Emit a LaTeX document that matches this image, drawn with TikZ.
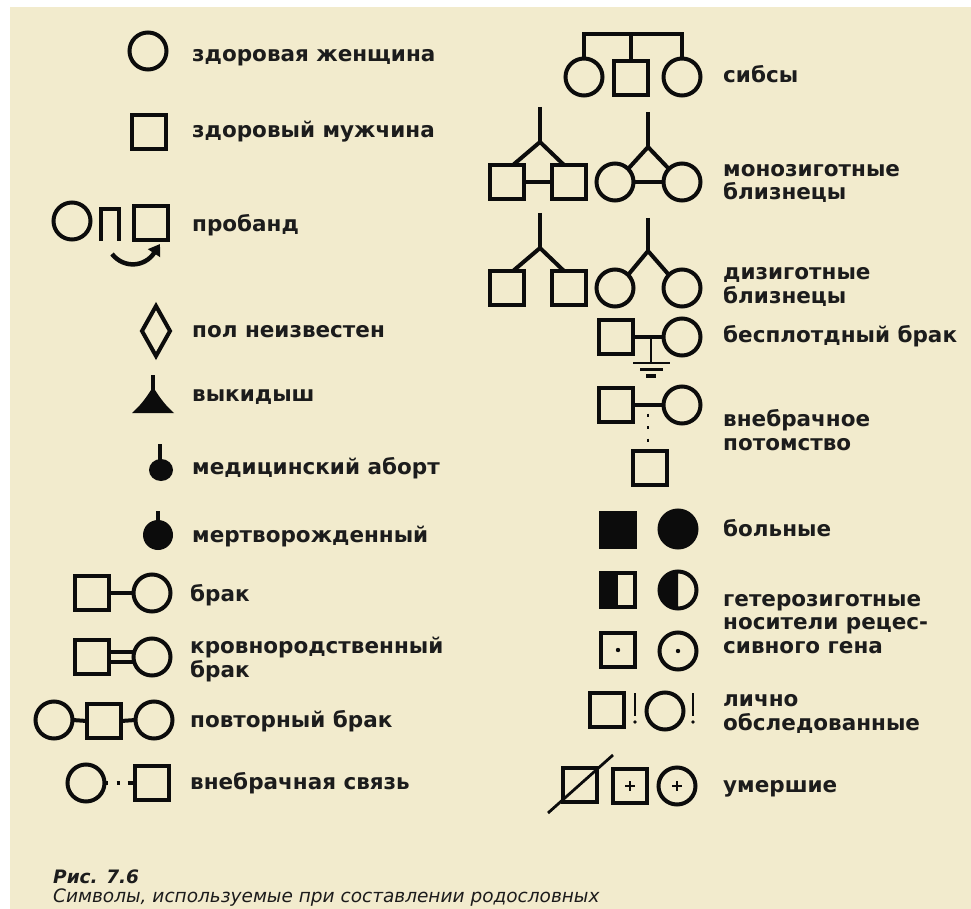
\documentclass[tikz,border=0pt]{standalone}
\usepackage{fontspec}
\setmainfont{DejaVu Sans}
\usetikzlibrary{arrows.meta,calc}
\definecolor{bg}{RGB}{242,235,205}
\definecolor{ink}{RGB}{12,12,12}
\definecolor{txt}{RGB}{28,28,28}
\begin{document}
\begin{tikzpicture}[x=1pt,y=-1pt,
  sym/.style={draw=ink,line width=4pt,inner sep=0pt,outer sep=0pt},
  sq/.style={sym,rectangle,minimum size=34pt},
  ci/.style={sym,circle,minimum size=37pt},
  filled/.style={fill=ink},
  lnk/.style={draw=ink,line width=4pt},
  thinln/.style={draw=ink,line width=2.8pt},
  lbl/.style={anchor=base west,inner sep=0pt,text=txt,align=left,
    font=\bfseries\fontsize{21.5}{23.5}\selectfont},
  captxt/.style={anchor=base west,inner sep=0pt,text=txt,align=left,
    font=\itshape\fontsize{18.5}{19}\selectfont}
]
\useasboundingbox (0,0) rectangle (971,909);
\fill[bg] (10,7) rectangle (971,909);

% ---------- left column ----------
\node[ci] (wo) at (148,51) {};
\node[lbl] (two) at (192,62) {здоровая женщина};

\node[sq] (ma) at (149,132) {};
\node[lbl] (tma) at (192,138) {здоровый мужчина};

\node[ci] (prc) at (72,221) {};
\draw[lnk,line width=4.5pt] (101,241) -- (101,209) -- (119,209) -- (119,241);
\node[sq] (prs) at (151,223) {};
\coordinate (prtip) at (160,244);
\draw[lnk,line width=4.5pt,-{Triangle[length=11pt,width=14pt]}] (112,254) .. controls (124,269) and (145,267) .. (prtip);
\node[lbl] (tpr) at (192,232) {пробанд};

\draw[lnk] (156,306) -- (170,331) -- (156,356) -- (142,331) -- cycle;
\node[lbl] (tun) at (192,337) {пол неизвестен};

\draw[draw=ink,line width=3.2pt] (153,375) -- (153,393);
\fill[ink] (132,413) .. controls (140,406) and (146,398) .. (151,390)
  -- (155,390) .. controls (160,398) and (166,406) .. (174,413) -- cycle;
\node[lbl] (tmc) at (192,401) {выкидыш};

\draw[draw=ink,line width=3.2pt] (160,444) -- (160,462);
\fill[ink] (161,470) ellipse [x radius=12, y radius=11];
\node[lbl] (tab) at (192,474) {медицинский аборт};

\draw[draw=ink,line width=3.2pt] (158,511) -- (158,522);
\fill[ink] (158,535) circle [radius=15];
\node[lbl] (tsb) at (192,542) {мертворожденный};

\node[sq] (mr1) at (92,593) {};
\node[ci] (mr2) at (152,593) {};
\draw[lnk] (mr1.east) -- (mr2.west);
\node[lbl] (tmr) at (190,601) {брак};

\node[sq] (cb1) at (92,657) {};
\node[ci] (cb2) at (152,657) {};
\draw[lnk] ([yshift=5pt]cb1.east) -- ([yshift=5pt]cb2.west);
\draw[lnk] ([yshift=-5pt]cb1.east) -- ([yshift=-5pt]cb2.west);
\node[lbl] (tcb) at (190,677) {кровнородственный\\брак};

\node[ci] (rp1) at (54,720) {};
\node[sq] (rp2) at (104,721) {};
\node[ci] (rp3) at (154,720) {};
\draw[lnk] (rp1.east) -- (rp2.west);
\draw[lnk] (rp2.east) -- (rp3.west);
\node[lbl] (trp) at (190,727) {повторный брак};

\node[ci] (xm1) at (86,783) {};
\node[sq] (xm2) at (152,783) {};
\draw[lnk,dash pattern=on 3.5pt off 8.5pt on 3pt off 8pt on 5pt] (xm1.east) -- (xm2.west);
\node[lbl] (txm) at (190,789) {внебрачная связь};

% ---------- right column ----------
\node[ci] (sb1) at (584,77) {};
\node[sq] (sb2) at (631,78) {};
\node[ci] (sb3) at (682,77) {};
\coordinate (sbt) at (631,34);
\draw[lnk] (sb1.north) -- (sb1.north |- sbt) -- (sb3.north |- sbt) -- (sb3.north);
\draw[lnk] (sb2.north) -- (sbt);
\node[lbl] (tsb2) at (723,83) {сибсы};

% monozygotic
\node[sq] (mzA) at (507,182) {};
\node[sq] (mzB) at (569,182) {};
\node[ci] (mzC) at (615,182) {};
\node[ci] (mzD) at (682,182) {};
\coordinate (mzb) at (540,142);
\coordinate (mzg) at (648,147);
\draw[lnk] (540,107) -- (mzb);
\draw[lnk] ($(mzA.north)+(6,0)$) -- (mzb) -- ($(mzB.north)+(-5,0)$);
\draw[lnk] (648,112) -- (mzg);
\draw[lnk] (mzC.north east) -- (mzg) -- (mzD.north west);
\draw[lnk] (mzA.east) -- (mzB.west);
\draw[lnk] (mzC.east) -- (mzD.west);
\node[lbl] (tmz) at (723,200) {монозиготные\\близнецы};

% dizygotic
\node[sq] (dzA) at (507,288) {};
\node[sq] (dzB) at (569,288) {};
\node[ci] (dzC) at (615,288) {};
\node[ci] (dzD) at (682,288) {};
\coordinate (dzb) at (540,248);
\coordinate (dzg) at (648,251);
\draw[lnk] (540,213) -- (dzb);
\draw[lnk] ($(dzA.north)+(6,0)$) -- (dzb) -- ($(dzB.north)+(-5,0)$);
\draw[lnk] (648,218) -- (dzg);
\draw[lnk] (dzC.north east) -- (dzg) -- (dzD.north west);
\node[lbl] (tdz) at (723,303) {дизиготные\\близнецы};

% childless
\node[sq] (ch1) at (616,337) {};
\node[ci] (ch2) at (682,337) {};
\draw[lnk] (ch1.east) -- (ch2.west);
\coordinate (cht) at (651,337);
\coordinate (chg) at (651,363);
\draw[thinln] (cht) -- (chg);
\draw[thinln] ($(chg)+(-18,0)$) -- ($(chg)+(19,0)$);
\draw[thinln] ($(chg)+(-11,6.5)$) -- ($(chg)+(12,6.5)$);
\draw[line width=3.2pt,draw=ink] ($(chg)+(-5,13)$) -- ($(chg)+(5,13)$);
\node[lbl] (tch) at (723,342) {бесплотдный брак};

% illegitimate
\node[sq] (il1) at (616,405) {};
\node[ci] (il2) at (682,405) {};
\node[sq] (il3) at (650,468) {};
\draw[lnk] (il1.east) -- (il2.west);
\coordinate (ilm) at (648,405);
\draw[draw=ink,line width=2.8pt,dash pattern=on 3pt off 9.5pt,dash phase=4pt] (ilm) -- (ilm |- il3.north);
\node[lbl] (til) at (723,450) {внебрачное\\потомство};

% affected
\node[sq,filled] (af1) at (618,530) {};
\node[ci,filled] (af2) at (678,529) {};
\node[lbl] (taf) at (723,536) {больные};

% heterozygous
\node[sq] (he1) at (618,590) {};
\node[ci] (he2) at (678,590) {};
\fill[ink] (he1.north west) rectangle (he1.south);
\fill[ink] (he2.north) arc[start angle=90,end angle=270,radius=18.5pt] -- cycle;
\node[lbl] (the) at (723,653) {гетерозиготные\\носители рецес-\\сивного гена};

% carriers
\node[sq] (cr1) at (618,650) {};
\node[ci] (cr2) at (678,651) {};
\fill[ink] (cr1.center) circle [radius=2.2];
\fill[ink] (cr2.center) circle [radius=2.2];

% examined
\node[sq] (ob1) at (607,710) {};
\node[ci] (ob2) at (665,711) {};
\draw[thinln] (635,693) -- (635,716);
\fill[ink] (635,722) circle [radius=1.8];
\draw[thinln] (693,693) -- (693,716);
\fill[ink] (693,722) circle [radius=1.8];
\node[lbl] (tob) at (723,730) {лично\\обследованные};

% deceased
\node[sq] (de1) at (580,785) {};
\node[sq] (de2) at (630,786) {};
\node[ci] (de3) at (677,786) {};
\draw[thinln] (548,813) -- (613,755);
\draw[thinln] ($(de2.center)+(-5,0)$) -- ($(de2.center)+(5,0)$);
\draw[thinln] ($(de2.center)+(0,-5)$) -- ($(de2.center)+(0,5)$);
\draw[thinln] ($(de3.center)+(-5,0)$) -- ($(de3.center)+(5,0)$);
\draw[thinln] ($(de3.center)+(0,-5)$) -- ($(de3.center)+(0,5)$);
\node[lbl] (tde) at (723,792) {умершие};

% caption
\node[captxt] (cap) at (53,902) {\textbf{Рис. 7.6}\\Символы, используемые при составлении родословных};
\end{tikzpicture}
\end{document}
